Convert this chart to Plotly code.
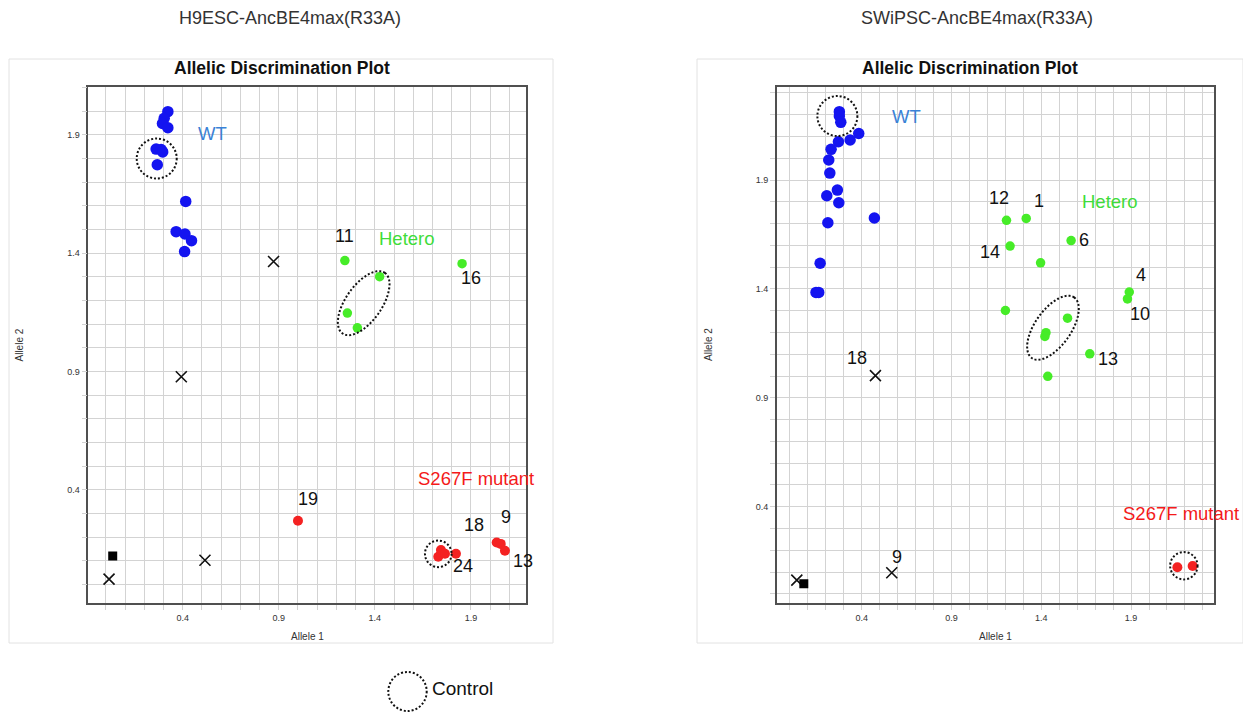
import numpy as np
import plotly.graph_objects as go

PAGE_W, PAGE_H = 1251, 715
OFF = 8  # default body margin of the page
W, H = PAGE_W - OFF, PAGE_H - OFF

# ---------------- data: left panel (H9ESC) ----------------
L_WT_X = [0.323, 0.304, 0.295, 0.323, 0.262, 0.288, 0.296, 0.268, 0.416, 0.366, 0.412, 0.446, 0.410]
L_WT_Y = [1.998, 1.970, 1.948, 1.930, 1.840, 1.838, 1.828, 1.774, 1.619, 1.491, 1.481, 1.453, 1.407]
L_HET_X = [1.244, 1.425, 1.257, 1.309, 1.854]
L_HET_Y = [1.369, 1.301, 1.147, 1.085, 1.356]
L_MUT_X = [1.000, 1.730, 1.744, 1.765, 1.822, 2.034, 2.055, 2.077]
L_MUT_Y = [0.270, 0.118, 0.146, 0.130, 0.130, 0.178, 0.172, 0.143]
L_UND_X = [0.873, 0.393, 0.516, 0.017]
L_UND_Y = [1.365, 0.878, 0.103, 0.023]
L_NTC_X = [0.036]
L_NTC_Y = [0.121]
L_NUM_TEXT = ["11", "16", "19", "18", "9", "24", "13"]
L_NUM_X = [1.244, 1.900, 1.054, 1.917, 2.081, 1.860, 2.172]
L_NUM_Y = [1.471, 1.294, 0.361, 0.252, 0.284, 0.078, 0.100]

# ---------------- data: right panel (SWiPSC) ----------------
R_WT_X = [0.275, 0.275, 0.283, 0.383, 0.335, 0.270, 0.229, 0.216, 0.222, 0.264, 0.205, 0.272, 0.470, 0.211, 0.168, 0.145, 0.160]
R_WT_Y = [2.214, 2.194, 2.165, 2.114, 2.084, 2.076, 2.041, 1.992, 1.932, 1.854, 1.828, 1.796, 1.726, 1.704, 1.518, 1.384, 1.384]
R_HET_X = [1.206, 1.316, 1.566, 1.226, 1.396, 1.890, 1.880, 1.200, 1.546, 1.426, 1.420, 1.670, 1.436]
R_HET_Y = [1.715, 1.724, 1.622, 1.597, 1.520, 1.386, 1.354, 1.301, 1.266, 1.199, 1.182, 1.102, 0.999]
R_MUT_X = [2.158, 2.243]
R_MUT_Y = [0.122, 0.128]
R_UND_X = [0.476, 0.567, 0.038]
R_UND_Y = [1.002, 0.097, 0.063]
R_NTC_X = [0.077]
R_NTC_Y = [0.046]
R_NUM_TEXT = ["12", "1", "6", "14", "4", "10", "13", "18", "9"]
R_NUM_X = [1.166, 1.386, 1.640, 1.112, 1.956, 1.952, 1.770, 0.372, 0.595]
R_NUM_Y = [1.817, 1.803, 1.624, 1.569, 1.463, 1.287, 1.080, 1.085, 0.170]

GROUP_LABELS = ["WT", "Hetero", "S267F mutant"]
L_GROUP_X = [0.557, 1.567, 1.928]
L_GROUP_Y = [1.906, 1.461, 0.450]
R_GROUP_X = [0.650, 1.780, 2.177]
R_GROUP_Y = [2.190, 1.801, 0.370]

TICK_LABELS = ["0.4", "0.9", "1.4", "1.9"]
PANEL_TITLES = ["H9ESC-AncBE4max(R33A)", "SWiPSC-AncBE4max(R33A)"]
PLOT_TITLE = "Allelic Discrimination Plot"

# ---------------- layout geometry (page pixels) ----------------
L_FRAME = dict(x0=88.3, x1=525.7, y0=87.3, y1=603.3)
R_FRAME = dict(x0=776.7, x1=1214.0, y0=87.3, y1=603.3)
L_XR, L_YR = [-0.091, 2.185], [-0.079, 2.101]
R_XR, R_YR = [-0.074, 2.362], [-0.0435, 2.326]

BLUE = "#1414f0"
GREEN = "#46ec28"
RED = "#f42222"
GRID = "#d3d3d3"


def PX(x):
    return (x - OFF) / W


def PY(y):
    return 1 - (y - OFF) / H


fig = go.Figure()


def add_panel(xa, ya, wx, wy, hx, hy, mx, my, ux, uy, nx, ny):
    common = dict(xaxis=xa, yaxis=ya, mode="markers", showlegend=False, hoverinfo="skip")
    fig.add_trace(go.Scatter(x=wx, y=wy, marker=dict(color=BLUE, size=11.5), **common))
    fig.add_trace(go.Scatter(x=hx, y=hy, marker=dict(color=GREEN, size=9.5), **common))
    fig.add_trace(go.Scatter(x=mx, y=my, marker=dict(color=RED, size=10), **common))
    fig.add_trace(go.Scatter(x=ux, y=uy, marker=dict(symbol="x-thin", size=11, line=dict(color="#111", width=1.6)), **common))
    fig.add_trace(go.Scatter(x=nx, y=ny, marker=dict(symbol="square", color="#000", size=9), **common))


add_panel("x", "y", L_WT_X, L_WT_Y, L_HET_X, L_HET_Y, L_MUT_X, L_MUT_Y, L_UND_X, L_UND_Y, L_NTC_X, L_NTC_Y)
add_panel("x2", "y2", R_WT_X, R_WT_Y, R_HET_X, R_HET_Y, R_MUT_X, R_MUT_Y, R_UND_X, R_UND_Y, R_NTC_X, R_NTC_Y)


def axis_cfg(frame, rng, horizontal, top):
    vals = [round(v, 1) for v in np.arange(0, top + 0.001, 0.1)]
    text = [f"{v:.1f}" if f"{v:.1f}" in TICK_LABELS else "" for v in vals]
    if horizontal:
        dom = [PX(frame["x0"]), PX(frame["x1"])]
    else:
        dom = [PY(frame["y1"]), PY(frame["y0"])]
    return dict(domain=dom, range=rng, tickmode="array", tickvals=vals, ticktext=text,
                showgrid=True, gridcolor=GRID, gridwidth=1.2, zeroline=False,
                ticks="outside", ticklen=5, tickcolor=GRID, tickwidth=1.2,
                showline=True, mirror=True, linecolor="#505050", linewidth=1.5,
                tickfont=dict(family="Liberation Sans, Arial", size=9, color="#333"),
                fixedrange=True)


fig.update_layout(
    width=W, height=H, margin=dict(l=0, r=0, t=0, b=0),
    paper_bgcolor="white", plot_bgcolor="white",
    xaxis=dict(axis_cfg(L_FRAME, L_XR, True, 2.1), anchor="y"),
    yaxis=dict(axis_cfg(L_FRAME, L_YR, False, 2.1), anchor="x"),
    xaxis2=dict(axis_cfg(R_FRAME, R_XR, True, 2.3), anchor="y2"),
    yaxis2=dict(axis_cfg(R_FRAME, R_YR, False, 2.3), anchor="x2"),
)


def scales(frame, xr, yr):
    return (frame["x1"] - frame["x0"]) / (xr[1] - xr[0]), (frame["y1"] - frame["y0"]) / (yr[1] - yr[0])


L_SX, L_SY = scales(L_FRAME, L_XR, L_YR)
R_SX, R_SY = scales(R_FRAME, R_XR, R_YR)

DOT = dict(color="#111", width=2, dash="2px,2px")
shapes = []


def circle(xref, yref, cx, cy, r_px, sx, sy):
    shapes.append(dict(type="circle", xref=xref, yref=yref, x0=cx - r_px / sx, x1=cx + r_px / sx,
                       y0=cy - r_px / sy, y1=cy + r_px / sy, line=DOT))


def ellipse(xref, yref, cx, cy, a, b, theta, sx, sy):
    t = np.linspace(0, 2 * np.pi, 73)
    th = np.radians(theta)
    px = a * np.cos(th) * np.cos(t) - b * np.sin(th) * np.sin(t)
    py = a * np.sin(th) * np.cos(t) + b * np.cos(th) * np.sin(t)
    xs = cx + px / sx
    ys = cy + py / sy
    path = "M " + " L ".join(f"{x:.4f},{y:.4f}" for x, y in zip(xs, ys)) + " Z"
    shapes.append(dict(type="path", xref=xref, yref=yref, path=path, line=DOT))


circle("x", "y", 0.265, 1.800, 20, L_SX, L_SY)
circle("x", "y", 1.730, 0.130, 13.3, L_SX, L_SY)
ellipse("x", "y", 1.342, 1.189, 37, 18, 55, L_SX, L_SY)
circle("x2", "y2", 0.264, 2.194, 20, R_SX, R_SY)
circle("x2", "y2", 2.194, 0.129, 13.7, R_SX, R_SY)
ellipse("x2", "y2", 1.465, 1.222, 37, 18, 55, R_SX, R_SY)

# panel boxes
for x0, x1 in [(9, 553), (697, 1243)]:
    shapes.append(dict(type="rect", xref="paper", yref="paper", x0=PX(x0), x1=PX(x1),
                       y0=PY(643), y1=PY(59), line=dict(color="#e2e2e2", width=1), layer="below"))
# legend circle
shapes.append(dict(type="circle", xref="paper", yref="paper", x0=PX(388.3), x1=PX(426.7),
                   y0=PY(711), y1=PY(672), line=DOT))
fig.update_layout(shapes=shapes)

ann = []
FONT = "Liberation Sans, Arial"


def txt(text, x, y, xref, yref, size, color="#111", **kw):
    ann.append(dict(text=text, x=x, y=y, xref=xref, yref=yref, showarrow=False,
                    font=dict(family=FONT, size=size, color=color), xanchor=kw.get("xanchor", "center"),
                    yanchor="middle", textangle=kw.get("textangle", 0)))


GROUP_COLORS = ["#3a82d6", "#3fdc3a", "#f41a1a"]
for t, x, y in zip(L_NUM_TEXT, L_NUM_X, L_NUM_Y):
    txt(t, x, y, "x", "y", 18)
for t, x, y in zip(R_NUM_TEXT, R_NUM_X, R_NUM_Y):
    txt(t, x, y, "x2", "y2", 18)
for t, x, y, c in zip(GROUP_LABELS, L_GROUP_X, L_GROUP_Y, GROUP_COLORS):
    txt(t, x, y, "x", "y", 18.5, c)
for t, x, y, c in zip(GROUP_LABELS, R_GROUP_X, R_GROUP_Y, GROUP_COLORS):
    txt(t, x, y, "x2", "y2", 18.5, c)

for t, cx in zip(PANEL_TITLES, [290, 977]):
    txt(t, PX(cx), PY(18), "paper", "paper", 18, "#333")
for cx in [281.5, 970]:
    txt("<b>" + PLOT_TITLE + "</b>", PX(cx), PY(68), "paper", "paper", 17.5, "#111")

for cx, lx in [((L_FRAME["x0"] + L_FRAME["x1"]) / 2, 18.5), ((R_FRAME["x0"] + R_FRAME["x1"]) / 2, 708)]:
    txt("Allele 1", PX(cx), PY(636), "paper", "paper", 10, "#333")
    txt("Allele 2", PX(lx), PY(345), "paper", "paper", 10, "#333", textangle=-90)

txt("Control", PX(430), PY(688), "paper", "paper", 19, "#111", xanchor="left")

fig.update_layout(annotations=ann)
fig.write_html("out.html")
